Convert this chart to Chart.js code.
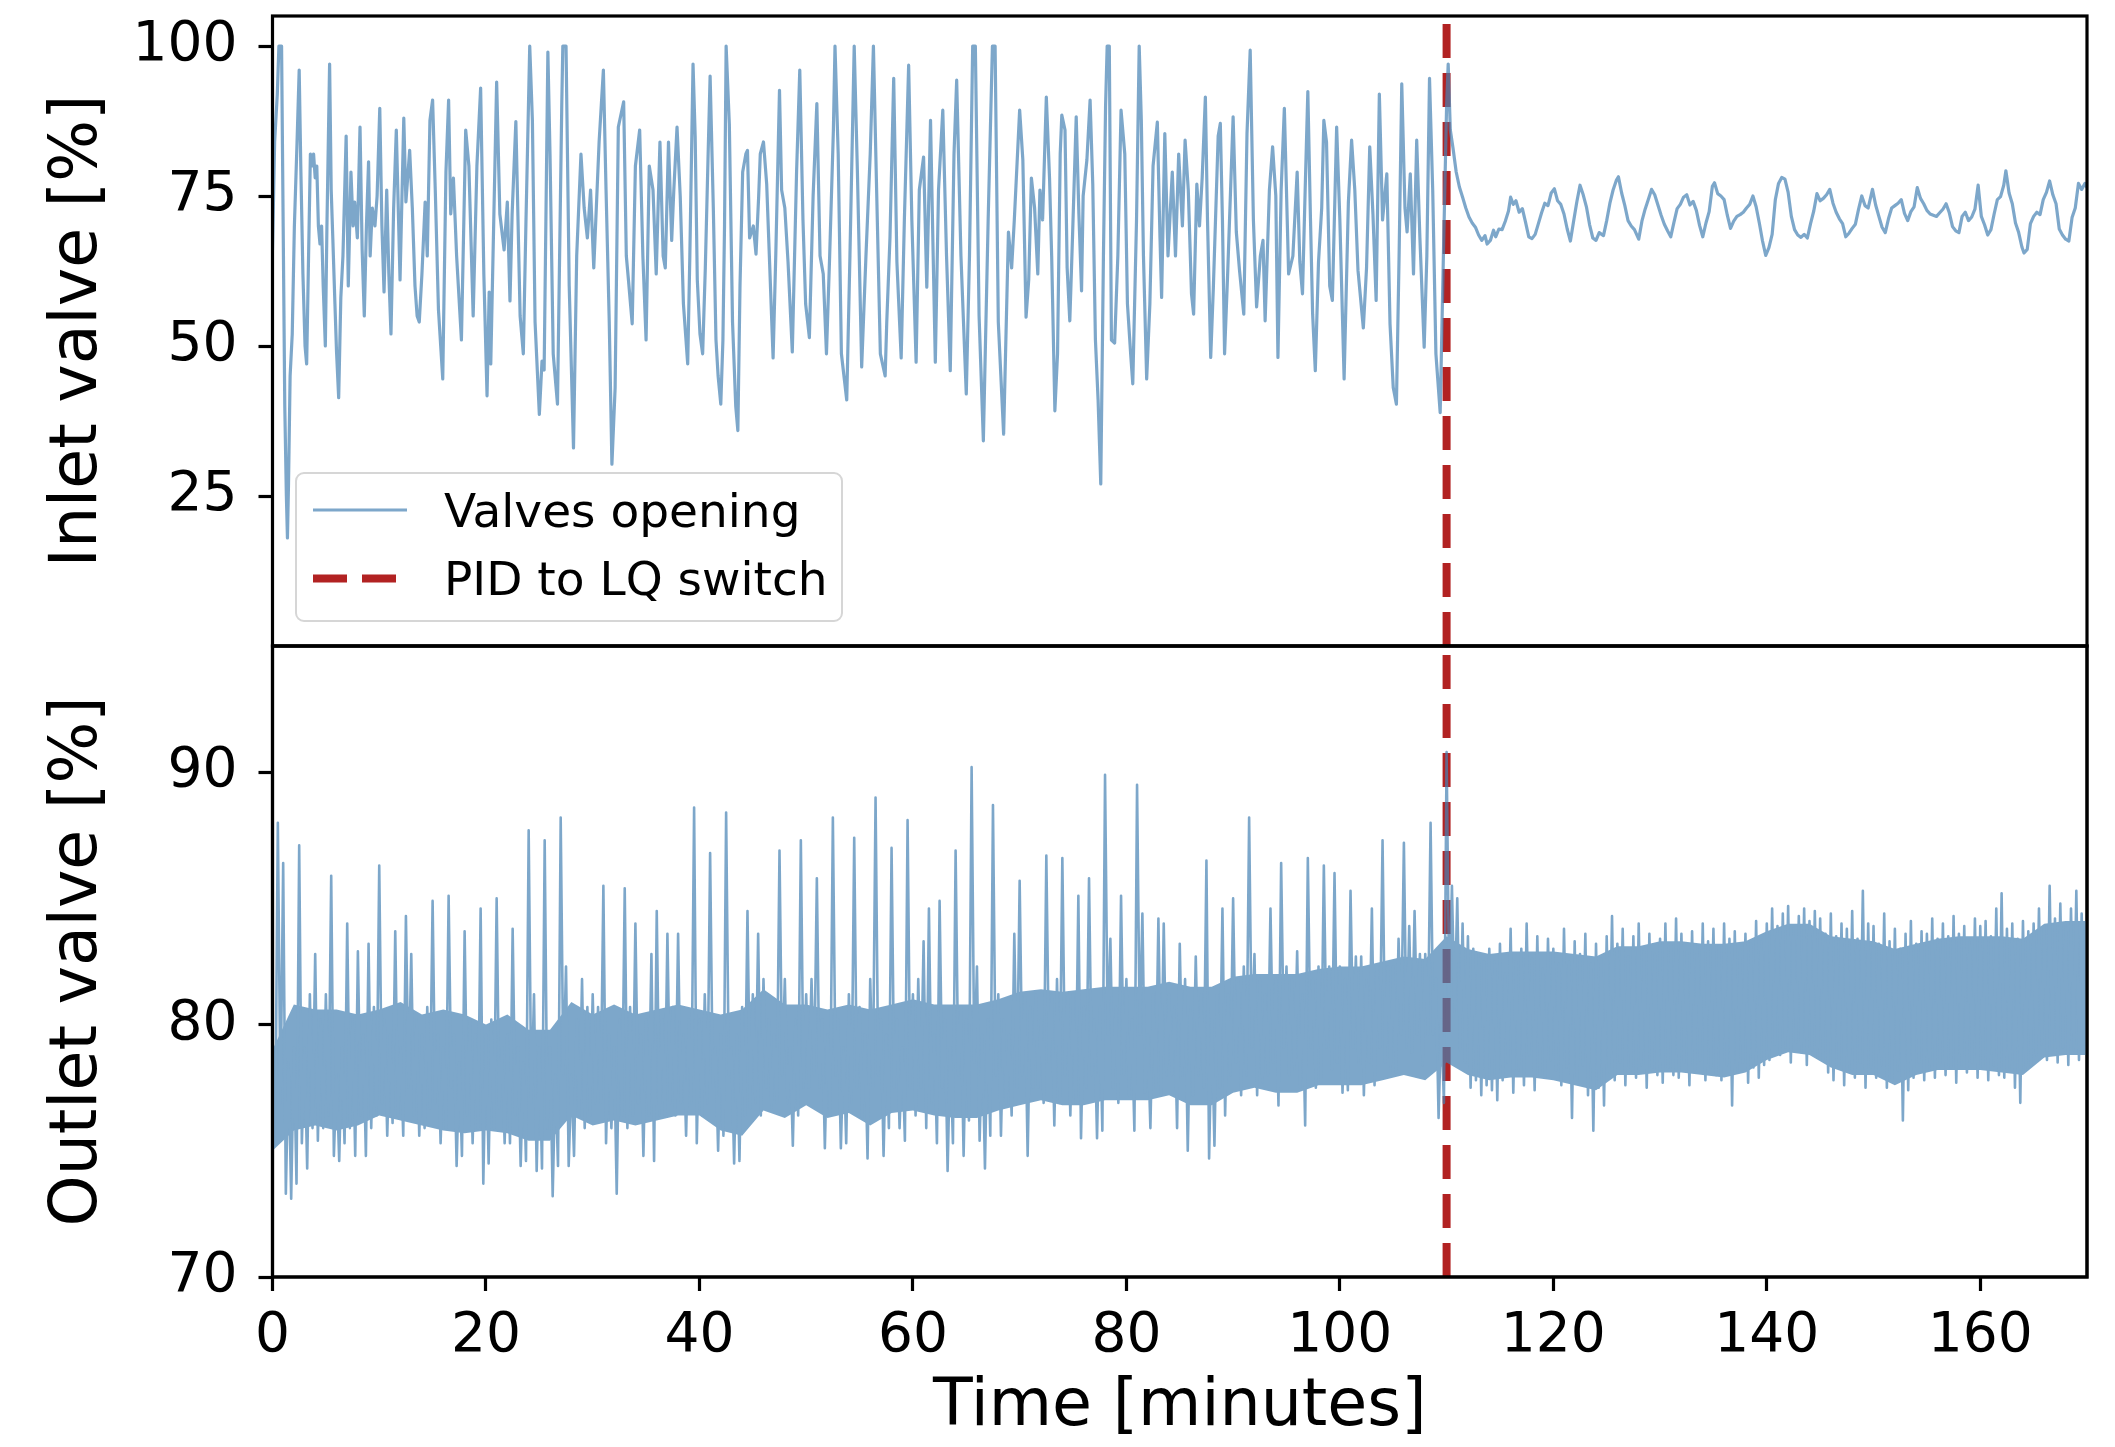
<!DOCTYPE html>
<html>
<head>
<meta charset="utf-8">
<title>Valves opening: PID to LQ</title>
<script src="https://cdn.jsdelivr.net/npm/chart.js@4.4.1/dist/chart.umd.min.js"></script>
<style>
  html, body { margin: 0; padding: 0; background: #fff; }
  #figure { position: relative; width: 2115px; height: 1447px; overflow: hidden; background: #fff; }
  #figure canvas { position: absolute; left: 0; }
  #inlet { top: 0; z-index: 1; }
  #outlet { top: 630px; z-index: 1; }
  /* the outlet trace is drawn opaque on its own layer, then faded as one piece */
  #outletTrace { top: 630px; z-index: 2; opacity: 0.7; }
  .legend {
    position: absolute; z-index: 3; left: 295px; top: 472px; width: 548px; height: 150px;
    box-sizing: border-box; border: 2.5px solid #d6d6d6; border-radius: 9px;
    background: rgba(255, 255, 255, 0.8);
    font-family: 'DejaVu Sans', sans-serif; font-size: 47px; color: #000;
  }
  .legend .item { position: absolute; left: 16px; display: flex; align-items: center; transform: translateY(-50%); white-space: nowrap; }
  .legend .item.first { top: 36px; }
  .legend .item.second { top: 104px; }
  .legend .swatch { width: 94px; margin-right: 37px; }
  .legend .solid { height: 3px; background: rgba(70, 130, 180, 0.7); }
  .legend .dashed { height: 8px; background: repeating-linear-gradient(to right, #b22222 0 34px, transparent 34px 49px); }
</style>
</head>
<body>
<div id="figure">
  <canvas id="inlet" width="2115" height="660"></canvas>
  <canvas id="outlet" width="2115" height="817"></canvas>
  <canvas id="outletTrace" width="2115" height="817"></canvas>
  <div class="legend">
    <div class="item first"><span class="swatch solid"></span><span>Valves opening</span></div>
    <div class="item second"><span class="swatch dashed"></span><span>PID to LQ switch</span></div>
  </div>
</div>
<script>
// ---- data ----
const timeTicks = [0, 20, 40, 60, 80, 100, 120, 140, 160];
const inletTicks = [25, 50, 75, 100];
const outletTicks = [70, 80, 90];
const switchMinute = 110;

// inlet valve [%] under PID control: [minute, opening]
const inletPid = [
  [0,66],[0.2,84],[0.45,92],[0.6,100],[0.85,100],[1.0,70],[1.15,40],[1.3,25],[1.4,18],[1.5,27],[1.65,45],[1.85,52],
  [2.05,70],[2.3,84],[2.5,96],[2.65,80],[2.85,62],[3.05,50],[3.2,47],[3.35,62],[3.55,82],[3.7,80],[3.85,82],[4.0,78],
  [4.15,80],[4.3,70],[4.45,67],[4.6,70],[4.75,60],[4.95,50],[5.1,70],[5.35,97],[5.5,76],[5.65,68],[5.85,57],[6.0,49],
  [6.2,41.4],[6.4,58],[6.6,65],[6.9,85],[7.1,60],[7.35,79],[7.55,70],[7.7,74],[7.95,68],[8.2,86.5],[8.4,66],[8.6,55],
  [8.8,70],[9.0,80.7],[9.15,65],[9.35,73],[9.6,70],[9.8,75],[10.05,89.6],[10.25,70],[10.45,59],[10.7,76],[10.9,62],
  [11.1,52],[11.35,73],[11.6,86],[11.95,61],[12.3,88],[12.5,74],[12.85,82.6],[13.1,73],[13.35,60],[13.55,55],[13.75,54],
  [14.0,62],[14.3,74],[14.5,65],[14.75,87.6],[15.0,91],[15.25,76],[15.55,56],[15.95,44.5],[16.25,79],[16.5,91],[16.7,72],
  [16.95,78],[17.25,65],[17.7,51],[18.1,86],[18.4,80],[18.8,55],[19.15,80],[19.5,93],[19.8,62],[20.1,41.7],[20.3,59],
  [20.45,47],[21.0,94],[21.3,72],[21.7,66],[22.0,74],[22.25,57.5],[22.45,72],[22.8,87.4],[23.2,55],[23.5,48.7],[23.75,71],
  [24.1,100],[24.35,87.6],[24.6,54],[25.0,38.6],[25.25,47.5],[25.45,46],[25.8,99],[26.0,82],[26.3,48.7],[26.7,40.3],
  [27.1,90],[27.2,100],[27.5,100],[27.8,60],[28.2,33],[28.5,65],[28.9,82],[29.2,73],[29.5,68],[29.8,76],[30.1,63],
  [30.6,84],[31.0,96],[31.25,76],[31.55,54],[31.8,30.3],[32.1,43],[32.4,86.5],[32.9,90.7],[33.15,65],[33.35,61],
  [33.7,53.7],[34.0,80],[34.4,86],[34.7,65],[35.0,51],[35.3,80],[35.65,76],[35.95,62],[36.3,84],[36.6,65],[36.8,63],
  [37.1,84],[37.4,67.6],[37.6,76],[37.9,86.5],[38.2,75],[38.5,57],[38.9,47],[39.1,65],[39.4,97],[39.6,85],[39.8,61],
  [40.05,52],[40.3,48.7],[40.55,63],[40.8,81],[41.0,95],[41.3,73],[41.55,51],[41.75,45],[42.0,40.3],[42.2,51],[42.35,70],
  [42.5,100],[42.8,87],[43.1,54],[43.4,40],[43.6,35.9],[43.8,60],[44.05,79],[44.35,82],[44.5,82.6],[44.7,68],[45.05,70],
  [45.3,65.3],[45.55,75],[45.7,82],[46.0,84],[46.3,77],[46.6,62.6],[46.9,48],[47.15,65],[47.5,92.6],[47.7,76],[48.0,73],
  [48.3,64],[48.7,49],[49.1,79],[49.4,96],[49.7,71],[49.95,57],[50.3,51.4],[50.65,75],[51.0,90.4],[51.3,65],[51.6,62],
  [51.9,48.7],[52.2,65],[52.55,86],[52.7,100],[53.0,82],[53.3,48.7],[53.8,41],[54.1,65],[54.5,100],[54.8,79],[55.2,46.5],
  [55.6,65],[56.0,82],[56.3,100],[56.6,76],[56.95,48.7],[57.4,45],[57.55,54],[57.85,68],[58.2,94.6],[58.5,64],[58.9,48],
  [59.2,71],[59.6,96.8],[59.9,71],[60.3,47.3],[60.6,76],[61.0,81.5],[61.3,59.8],[61.65,87.6],[61.9,65],[62.1,47.3],
  [62.4,76],[62.8,89.3],[63.15,65],[63.5,45.9],[63.85,82],[64.1,94.3],[64.5,65],[65.0,42],[65.3,65],[65.6,100],[65.85,100],
  [66.2,55],[66.6,34.2],[67.05,71],[67.45,100],[67.7,100],[68.0,54],[68.5,35.3],[68.95,69],[69.25,63],[69.5,71],[70.0,89.3],
  [70.3,81],[70.6,54.8],[70.85,61],[71.1,78],[71.4,73],[71.7,62],[71.9,76],[72.15,71],[72.5,91.5],[72.8,78],[73.0,65],
  [73.3,39.2],[73.55,48.7],[73.8,82],[73.95,88.5],[74.25,86],[74.45,63],[74.7,54.2],[74.95,68],[75.3,88.2],[75.55,72],
  [75.8,59.2],[75.95,75],[76.3,81],[76.6,91],[76.85,77],[77.1,51],[77.35,41],[77.6,27],[77.85,65],[78.05,90],[78.2,100],
  [78.4,100],[78.6,51],[78.9,50.5],[79.2,65],[79.5,89.3],[79.85,82],[80.1,57],[80.4,48.7],[80.6,43.7],[80.95,71],[81.2,100],
  [81.4,87.6],[81.6,65],[81.9,44.5],[82.2,57],[82.5,80],[82.9,87.3],[83.15,68],[83.3,58.1],[83.6,85.4],[83.9,65],[84.3,79],
  [84.6,65],[84.9,82],[85.25,70],[85.5,84.3],[85.8,76],[86.1,58.7],[86.3,55.3],[86.6,77],[86.85,70],[87.1,78],[87.4,91.5],
  [87.6,71],[87.9,48.1],[88.15,59.8],[88.6,85],[88.8,87.1],[89.0,71],[89.2,48.7],[89.5,62.6],[90.0,88.2],[90.3,69],
  [90.6,62.6],[91.0,55.3],[91.3,85.4],[91.6,99.3],[91.9,71],[92.2,56.5],[92.55,65],[92.8,67.6],[93.0,54.2],[93.4,76],
  [93.7,83.2],[94.0,75],[94.2,48.1],[94.5,76],[94.8,89.6],[95.2,62],[95.6,65],[96.0,79],[96.25,64],[96.5,58.7],[96.75,76],
  [97.0,92.4],[97.25,71],[97.45,55.3],[97.7,45.9],[98.0,64],[98.3,73],[98.5,87.6],[98.75,84],[99.05,60],[99.3,57.6],
  [99.7,86.5],[100.0,71],[100.4,44.5],[100.8,74],[101.1,84.3],[101.4,76],[101.7,62.6],[102.2,53],[102.5,63],[102.8,83.2],
  [103.1,72],[103.4,57.6],[103.7,92],[104.0,71],[104.4,78.7],[104.7,53.7],[105.0,43.1],[105.3,40.3],[105.55,65],[105.8,93.7],
  [106.1,73],[106.3,69],[106.6,78.7],[106.9,62],[107.2,84.3],[107.5,68],[107.9,49.8],[108.15,65],[108.4,94.6],[108.7,76],
  [109.0,48.7],[109.4,38.9],[109.7,65]
];

// inlet valve [%] after the switch to LQ control: [minute, opening]
const inletLq = [
  [110.0,90],[110.15,97],[110.35,86],[110.6,83],[110.9,79],[111.2,76.5],[111.5,74.8],[111.8,73],[112.1,71.5],[112.4,70.5],
  [112.7,69.8],[113.0,68.5],[113.3,67.6],[113.6,68.4],[113.8,67],[114.1,67.6],[114.4,69.3],[114.6,68.2],[114.9,69.5],
  [115.2,69.4],[115.5,70.8],[115.8,72.5],[116.0,74.8],[116.25,73.6],[116.5,74.2],[116.8,72.3],[117.1,72.9],[117.4,70.6],
  [117.7,68.2],[118.0,67.9],[118.3,68.6],[118.6,70.4],[118.9,72.2],[119.2,73.8],[119.5,73.4],[119.8,75.5],[120.1,76.2],
  [120.4,74.2],[120.7,73.6],[121.0,72],[121.3,69.5],[121.6,67.5],[121.9,70.8],[122.2,74],[122.5,76.8],[122.8,75.2],
  [123.1,73.2],[123.4,70.2],[123.7,68],[124.0,67.6],[124.3,68.9],[124.7,68.4],[125.0,70.9],[125.3,73.8],[125.6,76],
  [125.9,77.6],[126.1,78.2],[126.4,75.5],[126.7,73.4],[127.0,70.9],[127.3,70],[127.6,69.4],[128.0,67.8],[128.3,70.8],
  [128.6,72.8],[128.9,74.4],[129.2,76.1],[129.5,75.2],[129.8,73.5],[130.1,71.8],[130.4,70.3],[130.7,69.2],[131.0,68.2],
  [131.3,70.6],[131.6,72.9],[131.9,73.6],[132.2,74.8],[132.5,75.2],[132.8,73.5],[133.1,74.1],[133.4,72.6],[133.7,70.1],
  [134.0,68.2],[134.3,70.5],[134.6,72.4],[134.9,76.6],[135.1,77.2],[135.4,75.4],[135.7,75],[136.0,74.4],[136.3,71.8],
  [136.6,69.6],[136.9,70.8],[137.2,71.6],[137.5,71.9],[137.8,72.3],[138.1,73],[138.4,73.6],[138.7,75],[139.0,73.2],
  [139.3,70.5],[139.6,67.5],[139.9,65.1],[140.2,66.4],[140.5,68.6],[140.8,74.4],[141.1,77.1],[141.4,78.1],[141.7,77.8],
  [142.0,75.6],[142.3,71.6],[142.6,69.4],[142.9,68.5],[143.2,68.1],[143.5,68.6],[143.8,68],[144.1,70.4],[144.4,72.5],
  [144.7,75.4],[145.0,74.2],[145.3,74.6],[145.6,75.2],[145.9,76.1],[146.2,73.8],[146.5,72.3],[146.8,71.2],[147.1,70.4],
  [147.4,68.2],[147.7,68.8],[148.0,69.6],[148.3,70.3],[148.6,72.8],[148.9,75],[149.2,73.4],[149.5,73],[149.9,76.1],
  [150.2,73.5],[150.5,71.6],[150.8,69.8],[151.1,68.9],[151.4,71.2],[151.7,73],[152.0,73.4],[152.3,73.8],[152.6,74.4],
  [152.9,72.1],[153.2,70.9],[153.5,72.4],[153.8,73.2],[154.1,76.4],[154.4,74.6],[154.7,73.7],[155.0,72.6],[155.3,72],
  [155.6,71.8],[155.9,71.6],[156.2,72.2],[156.5,72.8],[156.8,73.7],[157.1,72.2],[157.4,69.9],[157.7,69.2],[158.0,68.9],
  [158.3,71.6],[158.6,72.3],[158.9,70.9],[159.2,71.5],[159.5,72.8],[159.8,76.8],[160.1,71.6],[160.4,70.2],[160.7,68.5],
  [161.0,69.4],[161.3,72],[161.6,74.4],[161.9,74.9],[162.2,76.8],[162.4,79.2],[162.7,75.5],[163.0,73.7],[163.3,70.5],
  [163.6,68.9],[163.9,66.5],[164.1,65.5],[164.4,66.1],[164.7,70.4],[165.0,71.6],[165.3,72.3],[165.6,71.9],[165.9,74.4],
  [166.2,75.6],[166.5,77.5],[166.8,75.2],[167.1,73.7],[167.4,69.5],[167.7,68.5],[168.0,67.8],[168.3,67.5],[168.6,71.4],
  [168.9,73],[169.2,77.1],[169.5,76.1],[169.8,77.1],[170.0,76.4]
];

// outlet valve [%], one sample every 0.25 minutes from t = 0
const outletStep = 0.25;
const outletOpening = [
  78.0,75.3,88.0,76.9,86.4,73.3,78.5,73.1,79.1,73.7,87.1,75.3,79.1,74.3,81.2,75.9,82.8,75.4,80.2,75.9,
  81.2,76.4,85.9,74.8,78.0,74.6,79.1,75.3,84.0,75.9,80.2,74.8,82.9,76.4,79.6,74.8,83.2,75.9,80.7,76.4,
  86.3,76.9,80.2,75.6,79.6,76.1,83.7,76.4,79.1,75.6,84.3,77.5,82.8,76.4,80.2,75.6,79.6,75.9,80.7,76.7,
  84.9,76.9,79.6,75.3,79.1,75.9,85.1,77.5,79.6,74.4,78.5,74.8,83.7,76.4,80.2,75.3,79.6,75.9,84.6,73.7,
  79.6,74.5,80.2,75.9,85.0,76.7,79.1,75.3,79.6,75.3,83.8,76.4,79.1,74.4,78.5,74.6,87.7,76.9,81.2,74.2,
  79.1,74.3,87.3,75.9,79.1,73.2,78.0,74.4,88.2,78.0,82.3,74.4,78.0,74.8,80.2,76.4,81.8,75.9,80.7,76.4,
  81.2,76.9,80.7,76.9,85.5,75.3,79.6,75.9,79.1,73.3,80.2,76.4,85.4,75.9,80.7,76.4,84.0,76.9,79.6,74.8,
  80.2,76.4,82.8,74.6,84.5,76.4,80.2,76.4,83.6,76.9,80.7,76.4,83.6,76.9,79.6,75.6,80.2,76.9,88.6,75.3,
  80.2,76.4,81.2,76.9,86.8,77.5,79.1,75.0,79.6,75.6,88.4,78.0,79.1,74.5,79.6,74.6,80.7,76.4,84.5,76.7,
  81.2,76.9,83.6,76.4,81.8,77.5,80.2,76.7,79.6,76.9,86.9,78.0,81.8,76.9,79.1,75.2,80.2,76.4,87.3,77.5,
  81.2,77.5,81.8,78.0,85.8,77.5,80.2,75.1,79.6,76.4,88.2,78.0,80.2,75.1,79.1,75.3,81.2,76.9,87.4,77.5,
  80.7,76.3,79.6,74.7,81.8,77.5,89.0,78.0,80.2,74.8,79.6,75.9,87.0,77.5,80.2,75.9,79.1,75.4,88.1,77.5,
  81.2,76.4,81.8,77.5,83.3,75.9,84.6,76.9,79.6,75.3,84.9,77.5,80.2,74.2,79.1,75.3,86.9,78.0,80.7,74.8,
  80.2,76.2,90.2,78.5,82.3,75.4,79.6,74.3,80.2,75.6,88.7,78.0,81.2,75.6,80.2,76.9,79.6,76.4,83.6,77.5,
  85.7,78.0,81.2,74.8,80.7,77.5,81.2,77.5,80.2,76.9,86.7,78.5,81.2,76.0,81.8,76.9,86.6,78.0,81.2,76.4,
  81.2,76.9,85.1,75.5,80.7,77.5,85.8,78.0,80.2,75.5,80.7,75.8,89.9,79.6,83.4,77.5,80.7,76.9,85.1,78.0,
  81.8,77.2,80.2,75.8,89.5,79.6,84.4,77.3,79.6,75.9,81.2,77.5,84.2,77.2,84.0,78.0,81.2,78.0,80.7,75.9,
  83.2,78.0,81.8,75.0,80.7,77.2,82.7,78.0,81.2,77.5,86.5,74.7,80.2,75.2,81.2,77.5,84.6,76.4,81.2,78.0,
  85.0,78.5,81.8,77.2,82.3,78.0,88.2,79.1,82.8,77.2,81.8,77.7,81.2,78.0,84.6,78.5,81.8,76.8,86.4,79.1,
  82.3,78.0,81.8,78.2,82.9,77.5,81.2,76.0,86.6,79.1,81.8,77.5,82.3,77.7,86.3,79.1,82.3,78.2,86.0,78.5,
  82.3,77.3,81.8,77.4,85.3,79.1,82.7,78.5,82.7,77.2,81.8,78.5,84.6,77.6,82.3,79.1,87.3,78.5,82.3,78.2,
  82.3,78.1,83.4,79.6,87.2,79.1,83.9,78.9,84.5,79.6,82.8,78.4,82.8,79.6,88.0,79.6,81.8,76.3,80.2,76.9,
  90.8,81.0,85.5,80.5,85.0,79.0,84.0,78.5,83.5,77.5,83.0,77.8,82.8,77.2,82.5,77.6,83.0,77.4,82.5,77.0,
  83.2,77.8,82.0,78.5,83.8,77.3,82.5,78.2,83.0,77.6,84.0,78.8,82.6,77.4,83.5,78.0,82.2,77.9,83.4,78.6,
  83.0,78.2,82.4,77.6,83.8,78.3,82.5,76.3,83.3,77.8,82.8,78.4,83.6,77.2,82.4,75.8,83.2,77.5,82.6,76.8,
  83.5,78.1,84.3,77.8,83.2,78.5,83.8,77.6,82.7,78.2,83.5,77.9,84.0,78.4,82.9,77.5,83.6,78.3,82.8,78.0,
  83.4,77.7,84.0,78.3,83.2,78.0,84.2,77.9,83.6,78.5,82.9,77.6,83.7,78.2,83.1,78.6,84.0,77.8,83.3,78.3,
  83.8,78.0,83.1,77.8,84.0,78.4,83.4,76.8,83.7,78.1,82.9,78.5,83.6,77.7,83.2,78.3,84.1,77.9,83.3,78.4,
  84.0,78.6,84.6,79.2,83.9,78.8,84.4,79.1,84.7,78.5,83.8,79.3,84.3,78.9,84.6,78.4,84.1,79.0,84.5,78.7,
  84.2,78.6,83.6,78.1,84.4,77.8,83.5,78.4,84.0,77.6,83.8,78.2,84.5,77.9,83.4,78.5,85.3,77.5,84.0,78.3,
  83.9,77.9,83.2,78.4,84.4,77.5,83.3,77.8,83.8,78.2,83.0,76.2,83.6,77.4,84.1,77.9,83.2,78.5,83.7,77.8,
  83.6,78.2,84.2,77.9,83.4,78.5,84.0,78.0,83.5,78.3,84.3,77.7,83.6,78.4,83.9,78.1,83.3,78.5,84.2,77.9,
  83.9,78.3,84.1,77.8,83.5,78.4,84.6,78.0,85.2,77.9,83.8,78.3,84.0,77.5,83.4,76.9,84.1,78.2,83.7,78.4,
  84.0,78.8,84.6,79.2,83.9,78.6,85.5,79.0,84.2,78.5,84.8,79.1,83.9,78.4,84.6,79.0,85.3,78.6,84.4,79.2,
  82.0
];

// outlet valve [%]: edges of the solid part of the trace, every 2 minutes from t = 0
const outletCoreStep = 2;
const outletCoreLow = [
  75.0,75.8,76.0,75.8,76.0,76.4,76.2,76.0,75.8,75.7,75.8,75.7,75.4,75.4,76.4,76.0,76.2,76.0,76.2,76.4,
  76.4,75.8,75.6,76.6,76.3,76.8,76.3,76.5,76.0,76.5,76.6,76.4,76.3,76.3,76.6,76.8,77.0,76.8,76.8,77.0,
  77.0,77.0,77.2,76.8,76.8,77.3,77.5,77.3,77.3,77.6,77.6,77.6,77.8,78.0,77.8,78.5,78.0,77.8,77.9,77.9,
  77.8,77.6,77.4,78.0,78.0,78.1,78.1,78.0,77.9,78.1,78.6,78.9,78.8,78.3,78.0,78.0,77.6,78.0,78.2,78.2,
  78.2,78.1,78.0,78.7,78.8,78.8
];
const outletCoreHigh = [
  79.0,80.8,80.6,80.6,80.4,80.6,80.9,80.4,80.6,80.4,80.0,80.4,79.8,79.8,80.9,80.4,80.8,80.4,80.6,80.8,
  80.6,80.4,80.6,81.4,80.8,80.8,80.6,80.8,80.6,80.8,81.0,80.8,80.8,80.8,81.0,81.3,81.4,81.3,81.4,81.5,
  81.5,81.5,81.7,81.5,81.5,81.9,82.0,82.0,82.0,82.2,82.3,82.3,82.5,82.7,82.6,83.5,83.0,82.8,82.9,82.9,
  82.9,82.8,82.7,83.1,83.1,83.3,83.3,83.2,83.2,83.3,83.7,84.0,84.0,83.5,83.4,83.3,83.0,83.2,83.4,83.5,
  83.5,83.5,83.4,84.0,84.1,84.1
];

// ---- styling ----
const STEEL = 'rgb(70, 130, 180)';
const VALVE_BLUE = 'rgba(70, 130, 180, 0.7)';
const SWITCH_RED = '#b22222';
const FONT = 'DejaVu Sans';
const AXIS_W = 272.5;

const tickFont = { family: FONT, size: 55 };
const titleFont = { family: FONT, size: 65, lineHeight: 1.2 };

const frame = {
  id: 'panelFrame',
  afterDatasetsDraw(chart) {
    const { ctx, chartArea: a } = chart;
    ctx.save();
    ctx.strokeStyle = '#000';
    ctx.lineWidth = 3.2;
    ctx.strokeRect(a.left, a.top, a.right - a.left, a.bottom - a.top);
    ctx.restore();
  }
};

function tickGrid(ink) {
  return { drawOnChartArea: false, drawTicks: true, tickLength: 14, tickWidth: 3.2, tickColor: ink };
}

// pin the plot box: no extra room for end labels
function noEndPadding(s) {
  s.paddingTop = 0;
  s.paddingBottom = 0;
  s.paddingLeft = 0;
  s.paddingRight = 0;
}

function yAxis(min, max, ticks, title, ink) {
  return {
    type: 'linear', min, max,
    afterBuildTicks: s => { s.ticks = ticks.map(value => ({ value })); },
    afterFit: s => { s.width = AXIS_W; noEndPadding(s); },
    grid: tickGrid(ink),
    border: { display: false },
    ticks: { color: ink, font: tickFont, padding: 21 },
    title: { display: true, text: title, color: ink, font: titleFont, padding: { top: 40, bottom: 0 } }
  };
}

function timeAxis(ink) {
  return {
    type: 'linear', min: 0, max: 170,
    afterBuildTicks: s => { s.ticks = timeTicks.map(value => ({ value })); },
    afterFit: s => { s.height = 170; noEndPadding(s); },
    grid: tickGrid(ink),
    border: { display: false },
    ticks: { color: ink, font: tickFont, padding: 13, maxRotation: 0, autoSkip: false },
    title: { display: true, text: 'Time [minutes]', color: ink, font: titleFont, padding: { top: 0, bottom: 0 } }
  };
}

function valveLine(points, width, color) {
  return {
    label: 'Valves opening',
    data: points,
    borderColor: color,
    borderWidth: width,
    borderJoinStyle: 'round',
    pointRadius: 0,
    tension: 0
  };
}

function switchLine(yLow, yHigh) {
  return {
    label: 'PID to LQ switch',
    data: [{ x: switchMinute, y: yLow }, { x: switchMinute, y: yHigh }],
    borderColor: SWITCH_RED,
    borderWidth: 8,
    borderDash: [34, 15],
    borderCapStyle: 'butt',
    pointRadius: 0
  };
}

const baseOptions = {
  responsive: false,
  animation: false,
  devicePixelRatio: 1,
  events: [],
  plugins: { legend: { display: false }, tooltip: { enabled: false } }
};
const outletLayout = { padding: { left: 0, right: 28, top: 16, bottom: 0 } };

const inletPoints = inletPid.concat(inletLq).map(([x, y]) => ({ x, y }));
const outletPoints = outletOpening.map((y, i) => ({ x: i * outletStep, y }));
const coreLowPoints = outletCoreLow.map((y, i) => ({ x: i * outletCoreStep, y }));
const coreHighPoints = outletCoreHigh.map((y, i) => ({ x: i * outletCoreStep, y }));

// top panel: inlet valve
new Chart(document.getElementById('inlet'), {
  type: 'line',
  data: { datasets: [valveLine(inletPoints, 3.2, VALVE_BLUE), switchLine(0, 105)] },
  options: {
    ...baseOptions,
    layout: { padding: { left: 0, right: 28, top: 16, bottom: 14 } },
    scales: {
      x: { type: 'linear', min: 0, max: 170, display: false },
      y: yAxis(0, 105, inletTicks, 'Inlet valve [%]', '#000')
    }
  },
  plugins: [frame]
});

// bottom panel: axes and switch marker
new Chart(document.getElementById('outlet'), {
  type: 'line',
  data: { datasets: [switchLine(70, 95)] },
  options: {
    ...baseOptions,
    layout: outletLayout,
    scales: { x: timeAxis('#000'), y: yAxis(70, 95, outletTicks, 'Outlet valve [%]', '#000') }
  },
  plugins: [frame]
});

// bottom panel: outlet trace on the layer above, same plot box
new Chart(document.getElementById('outletTrace'), {
  type: 'line',
  data: {
    datasets: [
      valveLine(outletPoints, 2.6, STEEL),
      { label: 'core high', data: coreHighPoints, borderWidth: 0, pointRadius: 0, fill: false },
      { label: 'core low', data: coreLowPoints, borderWidth: 0, pointRadius: 0, fill: '-1', backgroundColor: STEEL }
    ]
  },
  options: {
    ...baseOptions,
    layout: outletLayout,
    scales: { x: timeAxis('transparent'), y: yAxis(70, 95, outletTicks, 'Outlet valve [%]', 'transparent') }
  },
  plugins: [frame]
});
</script>
</body>
</html>
